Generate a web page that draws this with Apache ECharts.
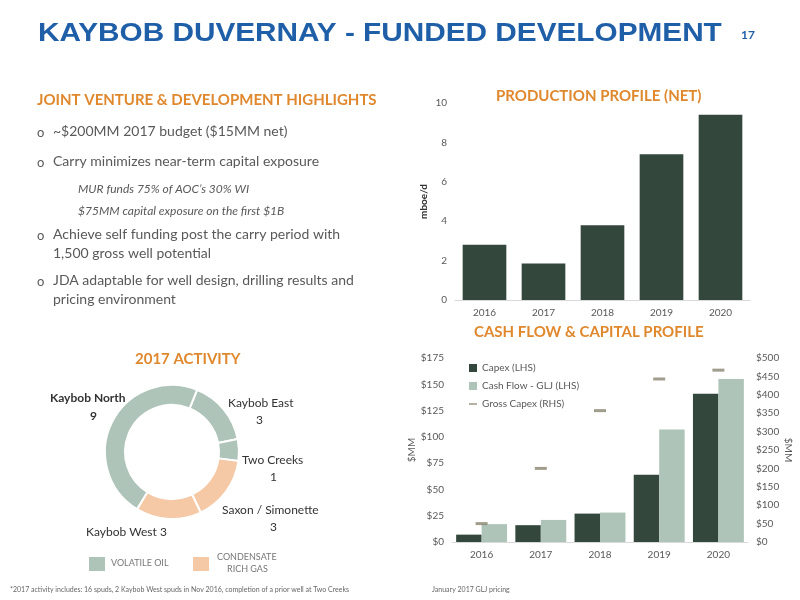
<!DOCTYPE html>
<html>
<head>
<meta charset="utf-8">
<script src="https://cdn.jsdelivr.net/npm/echarts@6/dist/echarts.min.js"></script>
<style>html,body{margin:0;padding:0;background:#fff}#main{width:800px;height:600px}</style>
</head>
<body>
<div id="main"></div>
<script>
// data
var years = ['2016', '2017', '2018', '2019', '2020'];
var production = [2.8, 1.85, 3.8, 7.4, 9.4];
var capex = [7, 16, 27, 64, 141];
var cashFlow = [17, 21, 28, 107, 155];
var grossCapex = [50, 200, 357, 443, 467];
var activityNames = ['Kaybob East', 'Two Creeks', 'Saxon / Simonette', 'Kaybob West', 'Kaybob North'];
var activityValues = [3, 1, 3, 3, 9];
var activityType = ['oil', 'oil', 'gas', 'gas', 'oil'];

var dark = '#34473d', light = '#afc4b8', peach = '#f6c9a6', orange = '#e0882e', grey = '#595959';
var font = 'Lato';

var myChart = echarts.init(document.getElementById('main'));

function txt(x, y, s, size, color, extra) {
    var st = { text: s, x: x, y: y, font: (extra && extra.weight || 'normal') + ' ' + size + 'px ' + font, fill: color };
    if (extra) { for (var k in extra) if (k !== 'weight') st[k] = extra[k]; }
    return { type: 'text', style: st };
}

var graphics = [
    { type: 'text', x: 38, y: 22, scaleX: 1.19, style: { text: 'KAYBOB DUVERNAY - FUNDED DEVELOPMENT', x: 0, y: 0, font: 'bold 25px Liberation Sans', fill: '#1f5fa8' } },
    txt(741, 29, '17', 12, '#1f5fa8', { weight: 'bold' }),
    txt(37, 93, 'JOINT VENTURE & DEVELOPMENT HIGHLIGHTS', 15, orange, { weight: 'bold' }),
    txt(37, 126, 'o', 13, grey), txt(53, 124, '~$200MM 2017 budget ($15MM net)', 14, grey),
    txt(37, 156, 'o', 13, grey), txt(53, 154, 'Carry minimizes near-term capital exposure', 14, grey),
    txt(78, 183, 'MUR funds 75% of AOC\u2019s 30% WI', 12, grey, { font: 'italic 12px ' + font }),
    txt(78, 205, '$75MM capital exposure on the first $1B', 12, grey, { font: 'italic 12px ' + font }),
    txt(37, 229, 'o', 13, grey), txt(53, 227, 'Achieve self funding post the carry period with', 14, grey),
    txt(53, 246, '1,500 gross well potential', 14, grey),
    txt(37, 275, 'o', 13, grey), txt(53, 273, 'JDA adaptable for well design, drilling results and', 14, grey),
    txt(53, 292, 'pricing environment', 14, grey),
    txt(496, 89, 'PRODUCTION PROFILE (NET)', 15, orange, { weight: 'bold' }),
    txt(474, 325, 'CASH FLOW & CAPITAL PROFILE', 15, orange, { weight: 'bold' }),
    txt(135, 352, '2017 ACTIVITY', 15, orange, { weight: 'bold' }),
    // donut labels
    txt(50, 392, 'Kaybob North', 12, '#333', { weight: 'bold' }),
    txt(90, 410, '9', 12, '#333', { weight: 'bold' }),
    txt(228, 397, 'Kaybob East', 12, '#333'), txt(256, 414, '3', 12, '#333'),
    txt(242, 454, 'Two Creeks', 12, '#333'), txt(270, 471, '1', 12, '#333'),
    txt(222, 504, 'Saxon / Simonette', 12, '#333'), txt(270, 521, '3', 12, '#333'),
    txt(86, 526, 'Kaybob West 3', 12, '#333'),
    { type: 'rect', shape: { x: 89, y: 557, width: 16, height: 14 }, style: { fill: light } },
    txt(111, 559, 'VOLATILE OIL', 9, '#777'),
    { type: 'rect', shape: { x: 193, y: 557, width: 16, height: 14 }, style: { fill: peach } },
    txt(217, 553, 'CONDENSATE', 9, '#777'), txt(227, 565, 'RICH GAS', 9, '#777'),
    txt(10, 586, '*2017 activity includes: 16 spuds, 2 Kaybob West spuds in Nov 2016, completion of a prior well at Two Creeks', 7, '#666'),
    txt(432, 586, 'January 2017 GLJ pricing', 7, '#666')
];

var axisLbl = { color: '#595959', fontSize: 10, fontFamily: font };

var option = {
    animation: false,
    textStyle: { fontFamily: font },
    graphic: graphics,
    legend: {
        data: [
            { name: 'Capex (LHS)', icon: 'rect' },
            { name: 'Cash Flow - GLJ (LHS)', icon: 'rect' },
            { name: 'Gross Capex (RHS)', icon: 'path://M0,4L10,4L10,6L0,6Z' }
        ],
        orient: 'vertical', left: 464, top: 358, itemGap: 8, itemWidth: 8, itemHeight: 8,
        textStyle: { color: '#595959', fontSize: 10, fontFamily: font }
    },
    grid: [
        { left: 455, right: 50, top: 103, height: 197 },
        { left: 452, right: 52, top: 358, height: 184 }
    ],
    xAxis: [
        { type: 'category', gridIndex: 0, data: years, axisTick: { show: false }, axisLine: { lineStyle: { color: '#d9d9d9' } }, axisLabel: axisLbl },
        { type: 'category', gridIndex: 1, data: years, axisTick: { show: false }, axisLine: { lineStyle: { color: '#d9d9d9' } }, axisLabel: axisLbl }
    ],
    yAxis: [
        { type: 'value', gridIndex: 0, min: 0, max: 10, interval: 2, splitLine: { show: false }, axisLabel: axisLbl,
          name: 'mboe/d', nameLocation: 'middle', nameGap: 26, nameTextStyle: { color: '#333', fontSize: 10, fontWeight: 'bold' } },
        { type: 'value', gridIndex: 1, min: 0, max: 175, interval: 25, splitLine: { show: false },
          axisLabel: { color: '#595959', fontSize: 10, fontFamily: font, formatter: '${value}' },
          name: '$MM', nameLocation: 'middle', nameGap: 34, nameTextStyle: { color: '#595959', fontSize: 10 } },
        { type: 'value', gridIndex: 1, position: 'right', min: 0, max: 500, interval: 50, splitLine: { show: false },
          axisLabel: { color: '#595959', fontSize: 10, fontFamily: font, formatter: '${value}' },
          name: '$MM', nameLocation: 'middle', nameGap: 30, nameRotate: -90, nameTextStyle: { color: '#595959', fontSize: 10 } }
    ],
    series: [
        { type: 'bar', xAxisIndex: 0, yAxisIndex: 0, data: production, barWidth: '74%', itemStyle: { color: dark } },
        { name: 'Capex (LHS)', type: 'bar', xAxisIndex: 1, yAxisIndex: 1, data: capex, barWidth: '43%', barGap: '0%', itemStyle: { color: dark } },
        { name: 'Cash Flow - GLJ (LHS)', type: 'bar', xAxisIndex: 1, yAxisIndex: 1, data: cashFlow, barWidth: '43%', itemStyle: { color: light } },
        { name: 'Gross Capex (RHS)', type: 'scatter', xAxisIndex: 1, yAxisIndex: 2, data: grossCapex,
          symbol: 'rect', symbolSize: [12, 3], itemStyle: { color: '#8a8470' } },
        { type: 'pie', center: [172, 452], radius: [47, 67], startAngle: 68, label: { show: false },
          itemStyle: { borderColor: '#fff', borderWidth: 2 },
          data: activityNames.map(function (n, i) {
              return { name: n, value: activityValues[i], itemStyle: { color: activityType[i] === 'oil' ? light : peach } };
          }) }
    ]
};

myChart.setOption(option);
</script>
</body>
</html>
